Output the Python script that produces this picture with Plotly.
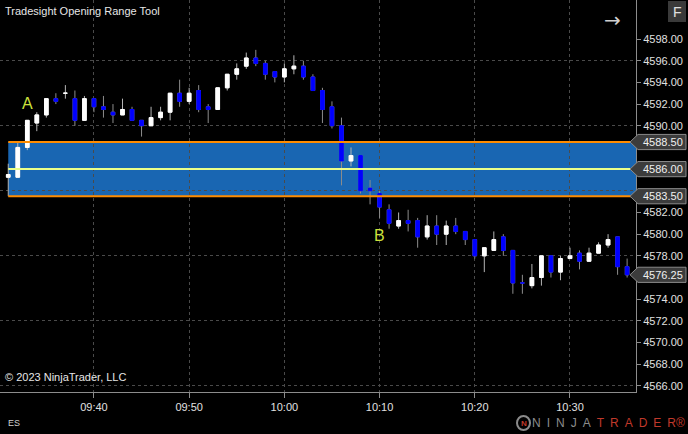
import plotly.graph_objects as go
import pandas as pd

# one-minute ES bars, 09:31 .. 10:36
opens = [4585.25, 4585.25, 4588.0, 4590.25, 4591.0, 4592.5, 4593.0, 4592.5, 4590.5, 4592.5,
         4591.75, 4591.25, 4591.0, 4591.5, 4590.5, 4590.0, 4590.75, 4591.25, 4593.0, 4592.25,
         4593.25, 4591.75, 4591.5, 4593.5, 4594.75, 4595.5, 4596.25, 4595.75, 4595.0, 4594.5,
         4595.25, 4595.5, 4594.5, 4593.25, 4591.75, 4590.0, 4586.75, 4587.25, 4584.25, 4583.75,
         4582.25, 4580.75, 4581.25, 4581.25, 4579.75, 4580.75, 4580.0, 4580.75, 4580.25, 4579.5,
         4578.0, 4578.5, 4579.75, 4578.5, 4575.5, 4575.25, 4576.0, 4578.0, 4576.5, 4577.75,
         4578.25, 4577.5, 4578.25, 4579.0, 4579.75, 4577.0]
highs = [4586.5, 4588.5, 4590.5, 4591.25, 4592.5, 4593.0, 4593.75, 4593.25, 4592.75, 4592.5,
         4592.75, 4592.0, 4592.5, 4591.75, 4590.5, 4591.75, 4591.75, 4593.0, 4594.25, 4593.5,
         4593.75, 4592.0, 4593.5, 4594.75, 4595.75, 4596.75, 4597.0, 4596.0, 4595.0, 4595.75,
         4596.5, 4596.0, 4594.75, 4593.5, 4592.25, 4590.75, 4588.0, 4587.25, 4585.0, 4584.0,
         4582.75, 4582.0, 4582.25, 4581.5, 4581.75, 4581.75, 4581.25, 4581.5, 4580.25, 4579.5,
         4578.75, 4580.25, 4580.0, 4578.5, 4576.25, 4577.25, 4578.0, 4578.0, 4578.0, 4578.75,
         4578.5, 4578.75, 4579.25, 4580.0, 4579.75, 4577.75]
lows = [4583.5, 4585.25, 4587.75, 4589.5, 4590.75, 4592.0, 4592.5, 4590.0, 4590.5, 4591.25,
        4590.75, 4590.25, 4591.0, 4590.5, 4589.0, 4590.0, 4590.5, 4590.5, 4591.75, 4592.0,
        4591.25, 4590.25, 4591.5, 4593.25, 4594.25, 4595.25, 4595.5, 4594.25, 4594.0, 4594.0,
        4594.75, 4594.25, 4593.25, 4590.25, 4589.75, 4584.5, 4586.25, 4583.75, 4582.75, 4581.5,
        4580.5, 4580.5, 4580.25, 4578.75, 4579.5, 4579.0, 4579.0, 4580.0, 4579.0, 4577.75,
        4576.5, 4578.5, 4578.0, 4574.5, 4574.5, 4575.0, 4575.25, 4576.0, 4575.75, 4577.75,
        4576.75, 4577.5, 4578.25, 4578.75, 4576.25, 4576.0]
closes = [4585.5, 4588.0, 4590.5, 4591.0, 4592.5, 4592.25, 4593.0, 4590.5, 4592.5, 4591.75,
          4591.5, 4591.0, 4591.5, 4590.5, 4590.0, 4590.75, 4591.25, 4593.0, 4592.25, 4593.0,
          4591.5, 4591.5, 4593.5, 4594.75, 4595.25, 4596.25, 4595.75, 4594.75, 4594.5, 4595.25,
          4595.5, 4594.5, 4593.25, 4591.5, 4590.0, 4586.75, 4587.25, 4584.0, 4584.0, 4582.5,
          4581.0, 4581.25, 4581.0, 4579.75, 4580.75, 4580.0, 4580.75, 4580.25, 4579.5, 4578.0,
          4578.75, 4579.5, 4578.5, 4575.5, 4575.5, 4576.0, 4578.0, 4576.5, 4577.75, 4578.0,
          4577.5, 4578.25, 4579.0, 4579.5, 4577.0, 4576.25]

times = pd.date_range("2023-10-02 09:31", periods=len(opens), freq="min")

range_high = 4588.50
range_mid = 4586.00
range_low = 4583.50
last_price = 4576.25
marker_levels = [range_high, range_mid, range_low, last_price]

price_ticks = [4566 + 2 * i for i in range(17)]
grid_levels = [4566, 4572, 4578, 4584, 4590, 4596]

label_a_bar = 2    # first close above the range
label_b_bar = 39   # first close below the range

y_range = [4565.44, 4601.6]
x_range = ["2023-10-02 09:30:08", "2023-10-02 10:36:56"]

W, H = 688, 434
ML, MR, MT, MB = 0, 52, 0, 42
PW, PH = W - ML - MR, H - MT - MB


def px_x(p):
    return p / PW


def px_y(p):
    return 1 - p / PH


font = "Liberation Sans, Arial, sans-serif"

# tick labels sitting under a price marker are hidden in the original
shown_ticks = [t for t in price_ticks if all(abs(t - m) >= 1 for m in marker_levels)]

fig = go.Figure()

# wicks
fig.add_trace(go.Candlestick(
    x=times, open=opens, high=highs, low=lows, close=closes,
    increasing=dict(line=dict(color="#b4b4b4", width=1), fillcolor="#b4b4b4"),
    decreasing=dict(line=dict(color="#8c8c8c", width=1), fillcolor="#8c8c8c"),
    hoverinfo="skip", showlegend=False,
))
# bodies
body_hi = [max(o, c) for o, c in zip(opens, closes)]
body_lo = [min(o, c) for o, c in zip(opens, closes)]
fig.add_trace(go.Candlestick(
    x=times, open=opens, high=body_hi, low=body_lo, close=closes,
    increasing=dict(line=dict(color="#ffffff", width=1), fillcolor="#ffffff"),
    decreasing=dict(line=dict(color="#0000ff", width=1), fillcolor="#0000ff"),
    showlegend=False,
))
# carrier for the 6-point grid axis
fig.add_trace(go.Scatter(x=[times[0]], y=[closes[0]], yaxis="y2", mode="markers",
                         marker=dict(opacity=0), hoverinfo="skip", showlegend=False))

# opening range band and lines
fig.add_shape(type="rect", xref="x", yref="y", x0=times[0], x1=x_range[1],
              y0=range_low, y1=range_high, fillcolor="#1966b2", line_width=0, layer="below")
for lvl, col in [(range_high, "#ff8c00"), (range_low, "#ff8c00"), (range_mid, "#eaff8a")]:
    fig.add_shape(type="line", xref="x", yref="y", x0=times[0], x1=x_range[1],
                  y0=lvl, y1=lvl, line=dict(color=col, width=2), layer="above")

# price markers on the axis
hh = 0.7
for lvl in marker_levels:
    path = (f"M {px_x(630)},{lvl} L {px_x(638)},{lvl + hh} L {px_x(686)},{lvl + hh} "
            f"L {px_x(686)},{lvl - hh} L {px_x(638)},{lvl - hh} Z")
    fig.add_shape(type="path", xref="paper", yref="y", path=path,
                  fillcolor="#3c3c3c", line=dict(color="#8a8a8a", width=1), layer="above")
    fig.add_annotation(x=px_x(663), y=lvl, xref="paper", yref="y", text=f"{lvl:.2f}",
                       showarrow=False, xanchor="center", yanchor="middle",
                       font=dict(family=font, size=11, color="#f0f0f0"))

# A / B labels
fig.add_annotation(x=times[label_a_bar], y=highs[label_a_bar], text="A", showarrow=False,
                   yshift=17, font=dict(family=font, size=16, color="#cde23c"))
fig.add_annotation(x=times[label_b_bar], y=lows[label_b_bar], text="B", showarrow=False,
                   yshift=-18, font=dict(family=font, size=16, color="#cde23c"))

# chrome text
fig.add_annotation(x=0, y=1, xref="paper", yref="paper", xshift=3, yshift=-3,
                   xanchor="left", yanchor="top", showarrow=False,
                   text="Tradesight Opening Range Tool",
                   font=dict(family=font, size=11, color="#e6e6e6"))
fig.add_annotation(x=0, y=0, xref="paper", yref="paper", xshift=3, yshift=7,
                   xanchor="left", yanchor="bottom", showarrow=False,
                   text="© 2023 NinjaTrader, LLC",
                   font=dict(family=font, size=11, color="#e6e6e6"))
fig.add_annotation(x=0, y=px_y(423), xref="paper", yref="paper", xshift=6,
                   xanchor="left", yanchor="middle", showarrow=False, text="ES",
                   font=dict(family=font, size=9, color="#d0d0d0"))
fig.add_annotation(x=px_x(612), y=px_y(20), xref="paper", yref="paper",
                   xanchor="center", yanchor="middle", showarrow=False, text="→",
                   font=dict(family="DejaVu Sans", size=20, color="#d0d0d0"))
fig.add_shape(type="rect", xref="paper", yref="paper", x0=px_x(668), x1=px_x(686),
              y0=px_y(22), y1=px_y(1), fillcolor="#3a3a3a", line_width=0)
fig.add_annotation(x=px_x(677), y=px_y(12), xref="paper", yref="paper",
                   xanchor="center", yanchor="middle", showarrow=False, text="F",
                   font=dict(family=font, size=14, color="#e0e0e0"))

# NinjaTrader logo
fig.add_shape(type="circle", xref="paper", yref="paper", x0=px_x(517), x1=px_x(530),
              y0=px_y(430), y1=px_y(416), line=dict(color="#8a8a8a", width=2))
fig.add_annotation(x=px_x(523.5), y=px_y(423), xref="paper", yref="paper",
                   xanchor="center", yanchor="middle", showarrow=False, text="<b>N</b>",
                   font=dict(family=font, size=8, color="#c0392b"))
sp = "\u2002"
fig.add_annotation(x=px_x(687), y=px_y(423), xref="paper", yref="paper",
                   xanchor="right", yanchor="middle", showarrow=False,
                   text=("<span style='color:#8c8c8c'>" + sp.join("NINJA") + sp + "</span>"
                         "<span style='color:#c0392b'>" + sp.join("TRADER") + "®</span>"),
                   font=dict(family=font, size=12))

fig.update_layout(
    template="none",
    width=W, height=H,
    margin=dict(l=ML, r=MR, t=MT, b=MB),
    paper_bgcolor="#000000",
    plot_bgcolor="#000000",
    boxgap=0.45,
    showlegend=False,
    xaxis=dict(
        type="date", range=x_range, rangeslider=dict(visible=False),
        tickformat="%H:%M", dtick=600000, tick0="2023-10-02 09:40",
        showgrid=True, gridcolor="#4a4a4a", griddash="dot", gridwidth=1,
        showline=True, linecolor="#8c8c8c", linewidth=1,
        ticks="outside", ticklen=5, tickcolor="#8c8c8c",
        tickfont=dict(family=font, size=11, color="#e0e0e0"),
        zeroline=False, automargin=False, fixedrange=True,
    ),
    yaxis=dict(
        side="right", range=y_range, tickvals=shown_ticks,
        tickformat=".2f", showgrid=False,
        showline=True, linecolor="#8c8c8c", linewidth=1,
        ticks="outside", ticklen=4, tickcolor="#8c8c8c",
        tickfont=dict(family=font, size=11, color="#e0e0e0"),
        zeroline=False, automargin=False,
    ),
    yaxis2=dict(
        overlaying="y", side="right", range=y_range, tickvals=grid_levels,
        showticklabels=False, ticks="", showgrid=True, gridcolor="#4a4a4a",
        griddash="dot", gridwidth=1, showline=False, zeroline=False, automargin=False,
    ),
)

# the page's default body margin would push the 688x434 chart out of the window
fig.write_html("out.html", config={"displayModeBar": False},
               post_script="document.body.style.margin='0';")
